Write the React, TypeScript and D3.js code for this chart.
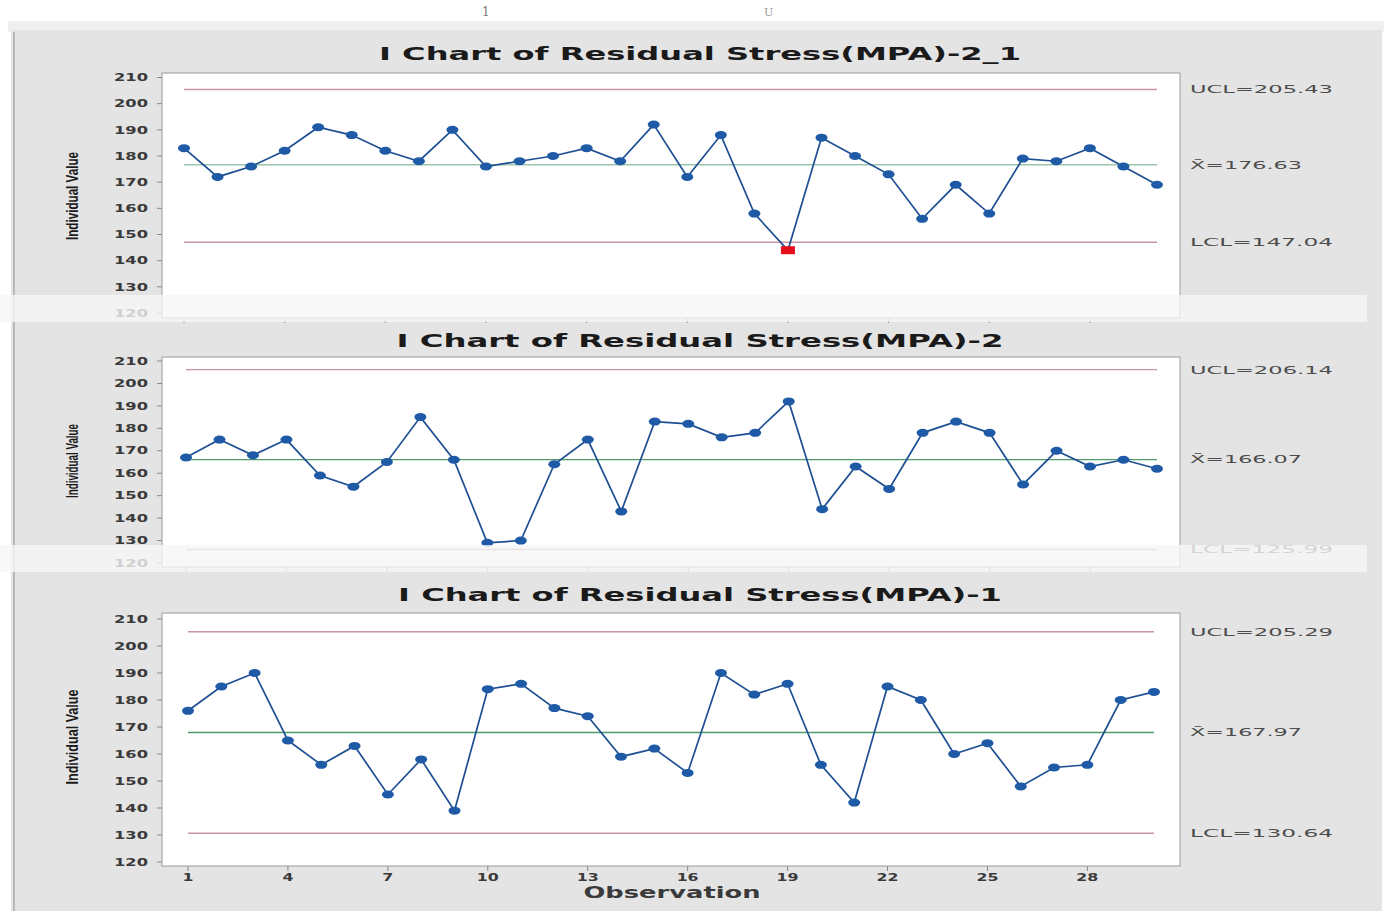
import React from "react";
import * as d3 from "d3";

// observation numbers (x categories)
const observations = [1, 2, 3, 4, 5, 6, 7, 8, 9, 10, 11, 12, 13, 14, 15, 16, 17, 18, 19, 20, 21, 22, 23, 24, 25, 26, 27, 28, 29, 30];

// individual values
const stress2_1 = [183, 172, 176, 182, 191, 188, 182, 178, 190, 176, 178, 180, 183, 178, 192, 172, 188, 158, 144, 187, 180, 173, 156, 169, 158, 179, 178, 183, 176, 169];
const stress2 = [167, 175, 168, 175, 159, 154, 165, 185, 166, 129, 130, 164, 175, 143, 183, 182, 176, 178, 192, 144, 163, 153, 178, 183, 178, 155, 170, 163, 166, 162];
const stress1 = [176, 185, 190, 165, 156, 163, 145, 158, 139, 184, 186, 177, 174, 159, 162, 153, 190, 182, 186, 156, 142, 185, 180, 160, 164, 148, 155, 156, 180, 183];

// control limits: UCL, mean, LCL
const limits2_1 = [205.43, 176.63, 147.04];
const limits2 = [206.14, 166.07, 125.99];
const limits1 = [205.29, 167.97, 130.64];

// flagged (out of control) observations
const flagged2_1 = [19];

const titles = [
  "I Chart of Residual Stress(MPA)-2_1",
  "I Chart of Residual Stress(MPA)-2",
  "I Chart of Residual Stress(MPA)-1",
];

const valueTicks = [120, 130, 140, 150, 160, 170, 180, 190, 200, 210];
const obsTicks = [1, 4, 7, 10, 13, 16, 19, 22, 25, 28];

const FONT = "'DejaVu Sans', Verdana, sans-serif";

// layout of each screen-captured panel
const panels = [
  { values: stress2_1, limits: limits2_1, flagged: flagged2_1, title: titles[0],
    titleY: 60, titleLen: 642, plotTop: 73, plotBottom: 318, yTop: 77.5, yBottom: 313,
    labelY: 196, labelLen: 88, x0: 184, x1: 1157, center: "#9cc4ad", ticks: false },
  { values: stress2, limits: limits2, flagged: [], title: titles[1],
    titleY: 347, titleLen: 607, plotTop: 357, plotBottom: 567, yTop: 361, yBottom: 563,
    labelY: 461, labelLen: 74, x0: 186, x1: 1157, center: "#4f9a6c", ticks: false },
  { values: stress1, limits: limits1, flagged: [], title: titles[2],
    titleY: 601, titleLen: 604, plotTop: 613, plotBottom: 866, yTop: 619, yBottom: 862,
    labelY: 737, labelLen: 95, x0: 188, x1: 1154, center: "#4f9a6c", ticks: true },
];

const limitNames = ["UCL=", "X\u0304=", "LCL="];

function Panel({ p }: { p: typeof panels[number] }) {
  const x = d3.scaleLinear().domain([1, 30]).range([p.x0, p.x1]);
  const y = d3.scaleLinear().domain([120, 210]).range([p.yBottom, p.yTop]);
  const line = d3.line<number>().x((_, i) => x(observations[i])).y((d) => y(d));
  const plotL = 162;
  const plotR = 1180;
  return (
    <g>
      <text x={700} y={p.titleY} textAnchor="middle" fontFamily={FONT} fontWeight="bold"
        fontSize={17} fill="#1a1a1a" textLength={p.titleLen} lengthAdjust="spacingAndGlyphs">
        {p.title}
      </text>
      <rect x={plotL} y={p.plotTop} width={plotR - plotL} height={p.plotBottom - p.plotTop}
        fill="#ffffff" stroke="#9a9a9a" strokeWidth={1} />
      {valueTicks.map((t) => (
        <g key={t}>
          <line x1={plotL - 5} x2={plotL} y1={y(t)} y2={y(t)} stroke="#8a8a8a" />
          <text x={148} y={y(t)} dy="0.35em" textAnchor="end" fontFamily={FONT} fontWeight="bold"
            fontSize={10.5} fill="#3a3a3a" textLength={34} lengthAdjust="spacingAndGlyphs">
            {t}
          </text>
        </g>
      ))}
      {obsTicks.map((t) => (
        <line key={t} x1={x(t)} x2={x(t)} y1={p.plotBottom} y2={p.plotBottom + 5} stroke="#8a8a8a" />
      ))}
      {p.ticks && obsTicks.map((t) => (
        <text key={t} x={x(t)} y={881} textAnchor="middle" fontFamily={FONT} fontWeight="bold"
          fontSize={10.5} fill="#3a3a3a" textLength={String(t).length * 11} lengthAdjust="spacingAndGlyphs">
          {t}
        </text>
      ))}
      <text transform={`translate(78,${p.labelY}) rotate(-90)`} textAnchor="middle"
        fontFamily="'Liberation Sans Narrow', 'Liberation Sans', Arial, sans-serif" fontWeight="bold"
        fontSize={16} fill="#1a1a1a" textLength={p.labelLen} lengthAdjust="spacingAndGlyphs">
        Individual Value
      </text>
      {p.limits.map((v, i) => (
        <g key={i}>
          <line x1={p.x0} x2={p.x1} y1={y(v)} y2={y(v)}
            stroke={i === 1 ? p.center : "#c995a2"} strokeWidth={1.4} />
          <text x={1190} y={y(v)} dy="0.35em" fontFamily={FONT} fontSize={11}
            fill="#4d4d4d" textLength={i === 1 ? 112 : 143} lengthAdjust="spacingAndGlyphs">
            {limitNames[i] + v.toFixed(2)}
          </text>
        </g>
      ))}
      <path d={line(p.values) || ""} fill="none" stroke="#1d4f92" strokeWidth={1.7} />
      {p.values.map((v, i) =>
        p.flagged.includes(observations[i]) ? (
          <rect key={i} x={x(observations[i]) - 7} y={y(v) - 4} width={14} height={8} fill="#e3101c" />
        ) : (
          <ellipse key={i} cx={x(observations[i])} cy={y(v)} rx={6} ry={4} fill="#1f5aa6" />
        )
      )}
    </g>
  );
}

export default function App() {
  const W = 1386;
  const H = 911;
  return (
    <svg width={W} height={H} style={{ position: "absolute", left: 0, top: 0, display: "block" }}>
      <rect x={0} y={0} width={W} height={H} fill="#ffffff" />
      <text x={482} y={16} fontFamily="'DejaVu Serif', serif" fontSize={12} fill="#777">1</text>
      <text x={764} y={16} fontFamily="'DejaVu Serif', serif" fontSize={11} fill="#999">U</text>
      <rect x={8} y={21} width={1376} height={11} fill="#efefef" />
      <rect x={11} y={30} width={1371} height={881} fill="#e4e4e4" />
      <line x1={14} x2={14} y1={32} y2={911} stroke="#b8b8b8" strokeWidth={2} />
      {panels.map((p, i) => (
        <Panel key={i} p={p} />
      ))}
      {/* overlapping capture edges */}
      <rect x={0} y={295} width={1367} height={27} fill="#f6f6f6" opacity={0.8} />
      <rect x={0} y={545} width={1367} height={27} fill="#f6f6f6" opacity={0.8} />
      <text x={672} y={898} textAnchor="middle" fontFamily={FONT} fontWeight="bold" fontSize={15}
        fill="#3a3a3a" textLength={177} lengthAdjust="spacingAndGlyphs">
        Observation
      </text>
    </svg>
  );
}
